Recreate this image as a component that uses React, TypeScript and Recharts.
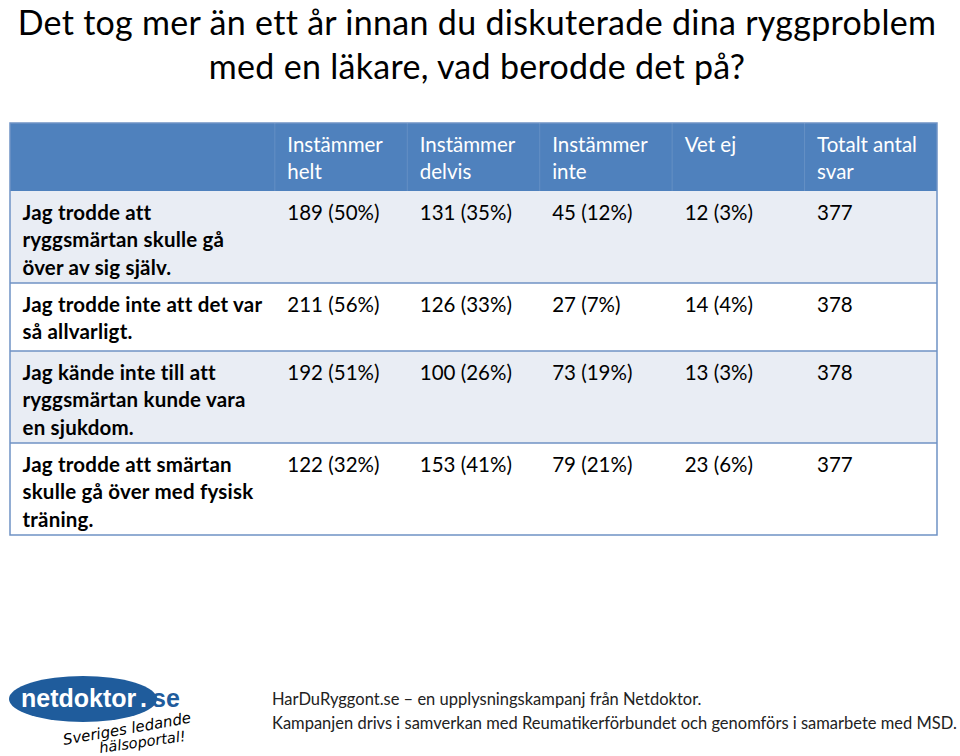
import React from "react";
import {
  ScatterChart,
  Scatter,
  XAxis,
  YAxis,
  ReferenceArea,
  ReferenceLine,
} from "recharts";

// Kolumnrubriker (radbrytningar som i originalet)
const columnHeaders = [
  ["Instämmer", "helt"],
  ["Instämmer", "delvis"],
  ["Instämmer", "inte"],
  ["Vet ej"],
  ["Totalt antal", "svar"],
];

// Påståenden, en rad per tabellrad
const rowLabels = [
  ["Jag trodde att", "ryggsmärtan skulle gå", "över av sig själv."],
  ["Jag trodde inte att det var", "så allvarligt."],
  ["Jag kände inte till att", "ryggsmärtan kunde vara", "en sjukdom."],
  ["Jag trodde att smärtan", "skulle gå över med fysisk", "träning."],
];

const instammerHelt = [189, 211, 192, 122];
const instammerHeltPct = [50, 56, 51, 32];
const instammerDelvis = [131, 126, 100, 153];
const instammerDelvisPct = [35, 33, 26, 41];
const instammerInte = [45, 27, 73, 79];
const instammerIntePct = [12, 7, 19, 21];
const vetEj = [12, 14, 13, 23];
const vetEjPct = [3, 4, 3, 6];
const totaltAntal = [377, 378, 378, 377];

const titleLines = [
  "Det tog mer än ett år innan du diskuterade dina ryggproblem",
  "med en läkare, vad berodde det på?",
];
const footerLines = [
  "HarDuRyggont.se – en upplysningskampanj från Netdoktor.",
  "Kampanjen drivs i samverkan med Reumatikerförbundet och genomförs i samarbete med MSD.",
];

// --- layout (radhöjd i "textrader") ---
const PAD = 0.85;
const LABEL_SPAN = 2;
const FONT = "Lato, 'Open Sans', sans-serif";
const LOGO_FONT = "'Liberation Sans', Arial, sans-serif";
const HEADER_BLUE = "#4F81BD";
const BORDER_BLUE = "#6F92C5";
const STRIPE = "#E9EDF4";
const LOGO_BLUE = "#1F5C9C";

const headerLines = Math.max(...columnHeaders.map((h) => h.length));
const bands = [headerLines, ...rowLabels.map((l) => l.length)].map((n) => n + PAD);
const starts: number[] = [];
bands.forEach((h, i) => starts.push(i === 0 ? 0 : starts[i - 1] + bands[i - 1]));
const totalUnits = starts[starts.length - 1] + bands[bands.length - 1];
const xMax = LABEL_SPAN + columnHeaders.length;

const series = [
  { counts: instammerHelt, pcts: instammerHeltPct },
  { counts: instammerDelvis, pcts: instammerDelvisPct },
  { counts: instammerInte, pcts: instammerIntePct },
  { counts: vetEj, pcts: vetEjPct },
  { counts: totaltAntal, pcts: null as number[] | null },
];

const headerData = columnHeaders.map((lines, i) => ({ x: LABEL_SPAN + i, y: 0, lines }));
const labelData = rowLabels.map((lines, r) => ({ x: 0, y: starts[r + 1], lines }));
const cellData = series.map((s, c) =>
  s.counts.map((v, r) => ({
    x: LABEL_SPAN + c,
    y: starts[r + 1],
    lines: [s.pcts ? `${v} (${s.pcts[r]}%)` : `${v}`],
  }))
);

const cellText = (fill: string, weight: number | string, spacing = 0) => (props: any) => {
  const { cx, cy, payload } = props;
  return (
    <text fill={fill} fontFamily={FONT} fontSize={20.5} fontWeight={weight} letterSpacing={spacing}>
      {payload.lines.map((l: string, i: number) => (
        <tspan key={i} x={cx + 12.5} y={cy + 28.5 + i * 27.5}>
          {l}
        </tspan>
      ))}
    </text>
  );
};

export default function App() {
  return (
    <div style={{ position: "absolute", left: 0, top: 0, width: 960, height: 756, background: "#fff" }}>
      <ScatterChart width={960} height={756} margin={{ top: 123, right: 23, bottom: 221, left: 10 }}>
        <XAxis type="number" dataKey="x" domain={[0, xMax]} hide />
        <YAxis type="number" dataKey="y" domain={[0, totalUnits]} reversed hide />

        <ReferenceArea x1={0} x2={xMax} y1={0} y2={bands[0]} fill={HEADER_BLUE} fillOpacity={1} stroke="none" />
        {rowLabels.map((_, r) => (
          <ReferenceArea
            key={`row-${r}`}
            x1={0}
            x2={xMax}
            y1={starts[r + 1]}
            y2={starts[r + 1] + bands[r + 1]}
            fill={r % 2 === 0 ? STRIPE : "#ffffff"}
            fillOpacity={1}
            stroke="none"
          />
        ))}
        {columnHeaders.map((_, c) => (
          <ReferenceLine
            key={`hsep-${c}`}
            segment={[
              { x: LABEL_SPAN + c, y: 0 },
              { x: LABEL_SPAN + c, y: bands[0] },
            ]}
            stroke="#ffffff"
            strokeOpacity={0.12}
          />
        ))}
        {rowLabels.slice(1).map((_, r) => (
          <ReferenceLine key={`rsep-${r}`} y={starts[r + 2]} stroke={BORDER_BLUE} strokeWidth={1.5} />
        ))}
        <ReferenceArea
          x1={0}
          x2={xMax}
          y1={0}
          y2={totalUnits}
          fill="none"
          fillOpacity={0}
          stroke={BORDER_BLUE}
          strokeWidth={1.5}
        />

        <Scatter data={headerData} shape={cellText("#ffffff", 400)} isAnimationActive={false} />
        <Scatter data={labelData} shape={cellText("#000000", 700, 0.2)} isAnimationActive={false} />
        {cellData.map((d, c) => (
          <Scatter key={`col-${c}`} data={d} shape={cellText("#000000", 400)} isAnimationActive={false} />
        ))}

        {/* rubrik */}
        <text textAnchor="middle" fill="#000" fontFamily={FONT} fontSize={34} letterSpacing={0.3}>
          {titleLines.map((l, i) => (
            <tspan key={i} x={477} y={35 + i * 44}>
              {l}
            </tspan>
          ))}
        </text>

        {/* sidfot */}
        <text fill="#222" fontFamily={FONT} fontSize={16.5}>
          {footerLines.map((l, i) => (
            <tspan key={i} x={272} y={705 + i * 24}>
              {l}
            </tspan>
          ))}
        </text>

        {/* netdoktor-logga */}
        <ellipse cx={83} cy={699} rx={74} ry={23} fill={LOGO_BLUE} />
        <text x={21} y={707} fill="#fff" fontFamily={LOGO_FONT} fontWeight={700} fontSize={25}>
          netdoktor
        </text>
        <text x={140} y={707} fill="#fff" fontFamily={LOGO_FONT} fontWeight={700} fontSize={25}>
          .
        </text>
        <text x={152} y={707} fill={LOGO_BLUE} fontFamily={LOGO_FONT} fontWeight={700} fontSize={25}>
          se
        </text>
        <text x={64} y={745} transform="rotate(-10 64 745)" fill="#000" fontFamily="'DejaVu Sans', sans-serif" fontStyle="italic" fontSize={15}>
          Sveriges ledande
        </text>
        <text x={100} y={753} transform="rotate(-8 100 753)" fill="#000" fontFamily="'DejaVu Sans', sans-serif" fontStyle="italic" fontSize={14.5}>
          hälsoportal!
        </text>
      </ScatterChart>
    </div>
  );
}
